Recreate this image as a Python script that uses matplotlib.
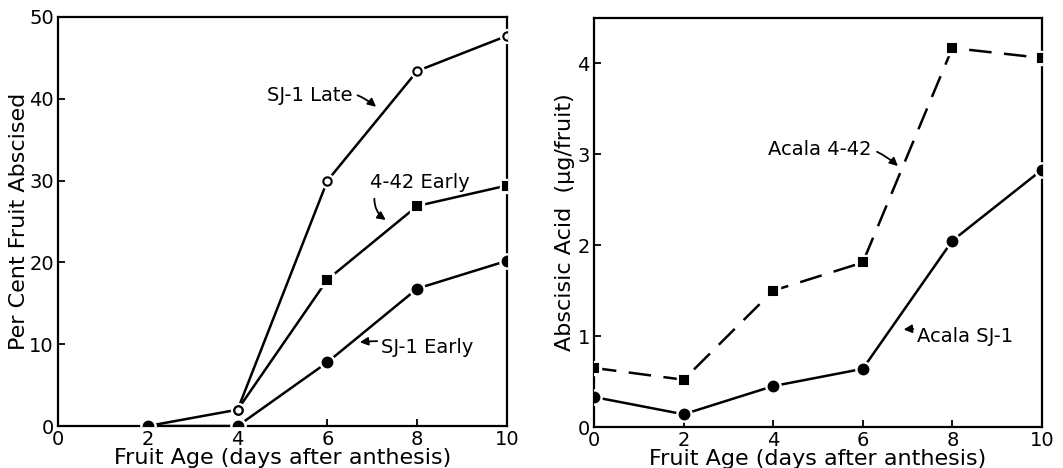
import matplotlib
matplotlib.use("Agg")
import matplotlib.pyplot as plt

# ---- data ----
days = [0, 2, 4, 6, 8, 10]
sj1_late_x = [2, 4, 6, 8, 10]
sj1_late_y = [0, 2.0, 30.0, 43.4, 47.7]
e442_x = [4, 6, 8, 10]
e442_y = [2.0, 17.9, 26.9, 29.4]
sj1_early_x = [2, 4, 6, 8, 10]
sj1_early_y = [0, 0, 7.8, 16.8, 20.2]

aba_442 = [0.65, 0.52, 1.50, 1.81, 4.17, 4.06]
aba_sj1 = [0.33, 0.14, 0.45, 0.64, 2.05, 2.83]

left_yticks = [0, 10, 20, 30, 40, 50]
right_yticks = [0, 1, 2, 3, 4]
xticks = [0, 2, 4, 6, 8, 10]

plt.rcParams['font.family'] = ['DejaVu Sans']
fig = plt.figure(figsize=(10.63, 4.68), dpi=100)
ax1 = fig.add_axes([0.0546, 0.0897, 0.4224, 0.874])
ax2 = fig.add_axes([0.5588, 0.0876, 0.4214, 0.874])

LW = 1.8
FS = 14
LFS = 16
AFS = 14


def style(ax):
    for s in ax.spines.values():
        s.set_linewidth(1.6)
    ax.tick_params(direction='in', length=5, width=1.3, labelsize=FS, pad=3)
    ax.set_xticks(xticks)
    ax.set_xlim(0, 10)


def series(ax, x, y, marker, ms, filled, ls='-', skip_first=False):
    ax.plot(x, y, color='black', lw=LW, ls=ls, zorder=2, clip_on=True)
    mx = x[1:] if skip_first else x
    my = y[1:] if skip_first else y
    ax.plot(mx, my, ls='none', marker=marker, ms=ms + 4, mfc='white',
            mec='white', zorder=3, clip_on=True)
    ax.plot(mx, my, ls='none', marker=marker, ms=ms,
            mfc='black' if filled else 'white', mec='black', mew=1.5,
            zorder=4, clip_on=True)


# ---- left panel ----
series(ax1, sj1_late_x, sj1_late_y, 'o', 6, False)
series(ax1, e442_x, e442_y, 's', 6, True, skip_first=True)
series(ax1, sj1_early_x, sj1_early_y, 'o', 7, True)
ax1.plot(sj1_late_x[1:2], sj1_late_y[1:2], ls='none', marker='o', ms=6,
         mfc='white', mec='black', mew=1.5, zorder=5)
style(ax1)
ax1.set_ylim(0, 50)
ax1.set_yticks(left_yticks)
ax1.set_xlabel('Fruit Age (days after anthesis)', fontsize=LFS, labelpad=-1)
ax1.set_ylabel('Per Cent Fruit Abscised', fontsize=LFS, labelpad=0)

arrow = dict(arrowstyle='-|>', color='black', lw=1.3, mutation_scale=12)
ax1.annotate('SJ-1 Late', xy=(7.13, 38.8), xytext=(6.55, 40.4),
             ha='right', va='center', fontsize=AFS,
             arrowprops=dict(arrow, connectionstyle='arc3,rad=-0.3'))
ax1.annotate('4-42 Early', xy=(7.35, 25.0), xytext=(6.95, 29.8),
             ha='left', va='center', fontsize=AFS,
             arrowprops=dict(arrow, connectionstyle='arc3,rad=0.35',
                             relpos=(0.05, 0.0), shrinkA=3))
ax1.annotate('SJ-1 Early', xy=(6.66, 10.2), xytext=(7.2, 9.6),
             ha='left', va='center', fontsize=AFS,
             arrowprops=dict(arrow, connectionstyle='arc3,rad=0.1', shrinkA=1))

# ---- right panel ----
series(ax2, days, aba_442, 's', 6, True, ls=(0, (9, 5)))
series(ax2, days, aba_sj1, 'o', 7, True)
style(ax2)
ax2.set_ylim(0, 4.5)
ax2.set_yticks(right_yticks)
ax2.set_xlabel('Fruit Age (days after anthesis)', fontsize=LFS, labelpad=-1)
ax2.set_ylabel('Abscisic Acid  (\u00b5g/fruit)', fontsize=LFS, labelpad=2)

ax2.annotate('Acala 4-42', xy=(6.83, 2.85), xytext=(6.2, 3.05),
             ha='right', va='center', fontsize=AFS,
             arrowprops=dict(arrow, connectionstyle='arc3,rad=-0.3'))
ax2.annotate('Acala SJ-1', xy=(6.85, 1.07), xytext=(7.22, 1.0),
             ha='left', va='center', fontsize=AFS,
             arrowprops=dict(arrow, connectionstyle='arc3,rad=0.1', shrinkA=1))

fig.savefig('out.png', dpi=100, facecolor='white')
